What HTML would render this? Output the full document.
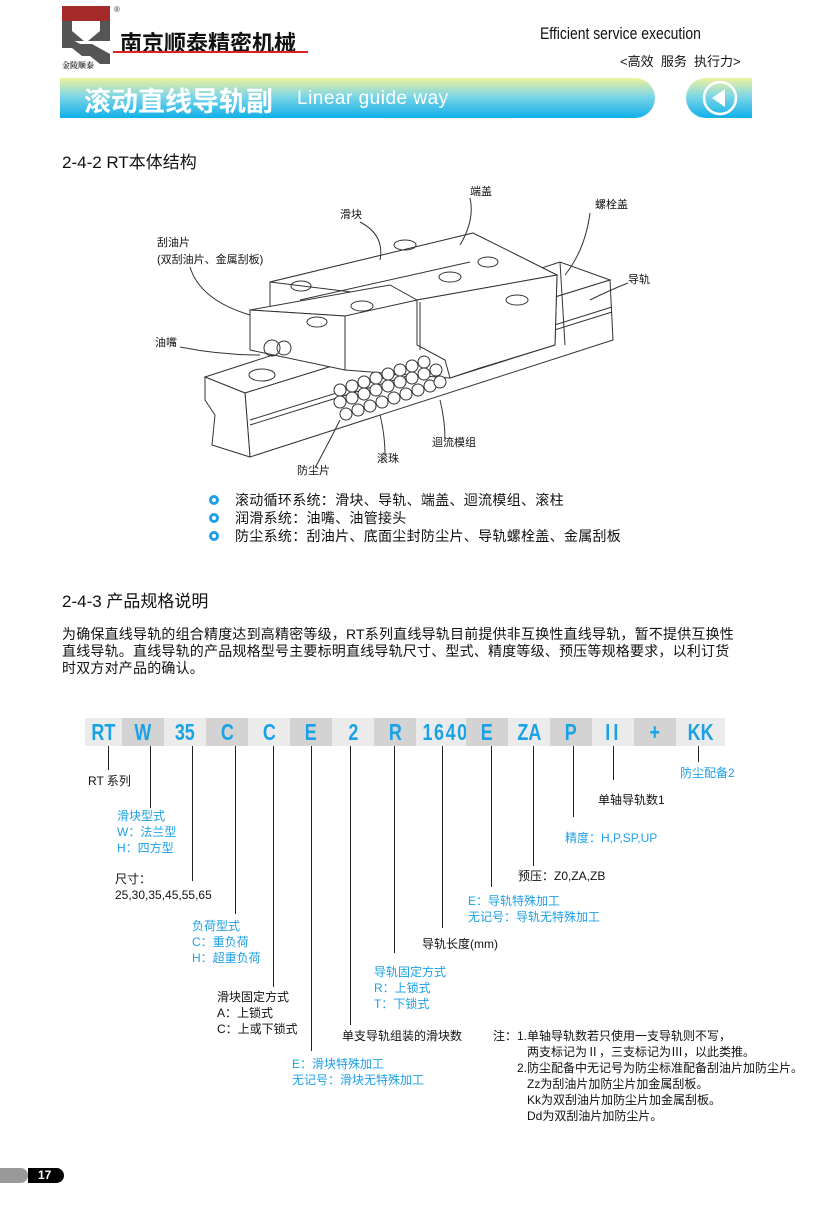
<!DOCTYPE html>
<html><head><meta charset="utf-8">
<style>
*{margin:0;padding:0;box-sizing:border-box}
body{width:830px;height:1217px;background:#fff;position:relative;overflow:hidden;font-family:"Liberation Sans","Noto Sans CJK SC",sans-serif;color:#111}
.a{position:absolute;white-space:nowrap}
.t{font-size:12px;line-height:16px}
.b{color:#1ea0e6}
.vl{position:absolute;width:1px;background:#222}
.box{position:absolute;top:718px;height:28px;font-weight:bold;font-size:23px;color:#19a3e6;text-align:center;line-height:28px}
.box span{display:inline-block;transform:scaleX(0.78)}
</style></head><body>

<!-- logo -->
<svg class="a" style="left:60px;top:4px" width="66" height="68">
<rect x="2" y="2" width="48" height="15" fill="#a52a2a"/>
<path d="M2 17 h10 v10 l12 10 h-22z M50 17 h-10 v10 l-12 10 h22z" fill="#555"/>
<path d="M2 30 l18 10 l12 0 l18 10 v10 h-10 l-10 -8 h-8 l-10 -8 h-10z" fill="#555"/>
<text x="54" y="8" font-size="8" fill="#333">®</text>
<text x="2" y="64" font-size="8" font-weight="bold" fill="#333" font-family="Noto Serif CJK SC,serif">金陵顺泰</text>
</svg>
<div class="a" style="left:120px;top:26px;font-size:22px;font-weight:bold;color:#111">南京顺泰精密机械</div>
<div class="a" style="left:113px;top:51px;width:195px;height:2px;background:#d22"></div>
<div class="a" style="left:540px;top:24px;font-size:17px;transform:scaleX(0.82);transform-origin:left">Efficient service execution</div>
<div class="a" style="left:620px;top:51px;font-size:13px">&lt;高效&nbsp;&nbsp;服务&nbsp;&nbsp;执行力&gt;</div>

<!-- banner -->
<div class="a" style="left:60px;top:78px;width:595px;height:40px;border-radius:0 20px 20px 0;background:linear-gradient(#eef29a,#7fd6e6 45%,#10b0ea)"></div>
<div class="a" style="left:84px;top:80px;font-size:27px;font-weight:bold;color:#fff">滚动直线导轨副</div>
<div class="a" style="left:297px;top:88px;font-size:19px;color:#fff;letter-spacing:0.5px">Linear guide way</div>
<div class="a" style="left:686px;top:78px;width:66px;height:40px;border-radius:20px 0 0 20px;background:linear-gradient(#eef29a,#7fd6e6 45%,#10b0ea)"></div>
<svg class="a" style="left:700px;top:79px" width="40" height="38"><circle cx="20" cy="19" r="16" fill="none" stroke="#fff" stroke-width="2.5"/><path d="M12 19 L25 10 V28Z" fill="#fff"/></svg>

<div class="a" style="left:62px;top:148px;font-size:17px">2-4-2 RT本体结构</div>

<!-- illustration -->
<svg class="a" style="left:0;top:0" width="830" height="490" fill="none" stroke="#333" stroke-width="1">
<path d="M205 377 L560 262 L610 280 L245 393 Z" fill="#fff"/>
<path d="M245 393 L610 280 L613 340 L250 457 Z" fill="#fff"/>
<path d="M205 377 L245 393 L250 457 L212 445 L215 415 L205 400 Z" fill="#fff"/>
<path d="M250 420 L612 307 M250 425 L612 312"/>
<ellipse cx="262" cy="375" rx="13" ry="6"/>
<path d="M270 282 L473 233 L557 275 L555 345 L450 378 L345 370 L270 335 Z" fill="#fff"/>
<path d="M270 282 L473 233 L557 275 L417 300 Z" fill="#fff"/>
<path d="M250 310 L390 285 L417 300 L345 316 Z" fill="#fff"/>
<path d="M250 310 L345 316 L345 370 L250 350 Z" fill="#fff"/>
<path d="M417 300 L557 275 L555 345 L480 368 L450 378 L445 360 L417 345 Z" fill="#fff"/>
<path d="M560 262 L565 345 M300 300 L470 262 M420 302 L420 350"/>
<ellipse cx="405" cy="245" rx="11" ry="5"/><ellipse cx="450" cy="277" rx="11" ry="5"/>
<ellipse cx="362" cy="306" rx="11" ry="5"/><ellipse cx="301" cy="286" rx="10" ry="5"/>
<ellipse cx="488" cy="262" rx="10" ry="5"/><ellipse cx="517" cy="300" rx="11" ry="5"/>
<ellipse cx="317" cy="322" rx="10" ry="5"/>
<circle cx="272" cy="348" r="8"/><circle cx="284" cy="348" r="7"/>
<g fill="#fff">
<circle cx="340" cy="390" r="6"/><circle cx="352" cy="386" r="6"/><circle cx="364" cy="382" r="6"/><circle cx="376" cy="378" r="6"/><circle cx="388" cy="374" r="6"/><circle cx="400" cy="370" r="6"/><circle cx="412" cy="366" r="6"/><circle cx="424" cy="362" r="6"/>
<circle cx="340" cy="402" r="6"/><circle cx="352" cy="398" r="6"/><circle cx="364" cy="394" r="6"/><circle cx="376" cy="390" r="6"/><circle cx="388" cy="386" r="6"/><circle cx="400" cy="382" r="6"/><circle cx="412" cy="378" r="6"/><circle cx="424" cy="374" r="6"/><circle cx="436" cy="370" r="6"/>
<circle cx="346" cy="414" r="6"/><circle cx="358" cy="410" r="6"/><circle cx="370" cy="406" r="6"/><circle cx="382" cy="402" r="6"/><circle cx="394" cy="398" r="6"/><circle cx="406" cy="394" r="6"/><circle cx="418" cy="390" r="6"/><circle cx="430" cy="386" r="6"/><circle cx="440" cy="382" r="6"/>
</g>
<path d="M360 222 Q385 235 380 260 M470 198 Q475 220 460 245 M590 213 Q585 250 565 275 M628 283 Q610 290 590 300 M180 347 Q220 355 260 355 M190 267 Q200 300 250 315 M445 440 Q445 420 440 400 M385 455 Q385 435 380 415 M315 468 Q330 440 340 420"/>
</svg>
<div class="a t" style="left:470px;top:184px;font-size:11px">端盖</div>
<div class="a t" style="left:340px;top:207px;font-size:11px">滑块</div>
<div class="a t" style="left:595px;top:197px;font-size:11px">螺栓盖</div>
<div class="a t" style="left:157px;top:235px;font-size:11px">刮油片</div>
<div class="a t" style="left:157px;top:252px;font-size:11px">(双刮油片、金属刮板)</div>
<div class="a t" style="left:628px;top:272px;font-size:11px">导轨</div>
<div class="a t" style="left:155px;top:335px;font-size:11px">油嘴</div>
<div class="a t" style="left:432px;top:435px;font-size:11px">迴流模组</div>
<div class="a t" style="left:377px;top:451px;font-size:11px">滚珠</div>
<div class="a t" style="left:297px;top:463px;font-size:11px">防尘片</div>

<!-- bullets -->
<div class="a" style="left:209px;top:495px;width:10px;height:10px;border:3px solid #1ea0e6;border-radius:50%"></div>
<div class="a" style="left:209px;top:513px;width:10px;height:10px;border:3px solid #1ea0e6;border-radius:50%"></div>
<div class="a" style="left:209px;top:531px;width:10px;height:10px;border:3px solid #1ea0e6;border-radius:50%"></div>
<div class="a" style="left:235px;top:491px;font-size:14px;line-height:18px;letter-spacing:0.3px">滚动循环系统：滑块、导轨、端盖、迴流模组、滚柱<br>润滑系统：油嘴、油管接头<br>防尘系统：刮油片、底面尘封防尘片、导轨螺栓盖、金属刮板</div>

<div class="a" style="left:62px;top:587px;font-size:17px">2-4-3 产品规格说明</div>
<div class="a" style="left:62px;top:626px;font-size:14px;line-height:17px;letter-spacing:0.2px">为确保直线导轨的组合精度达到高精密等级，RT系列直线导轨目前提供非互换性直线导轨，暂不提供互换性<br>直线导轨。直线导轨的产品规格型号主要标明直线导轨尺寸、型式、精度等级、预压等规格要求，以利订货<br>时双方对产品的确认。</div>

<!-- code boxes -->
<div class="box" style="left:85px;width:37px;background:#ebebeb"><span>RT</span></div>
<div class="box" style="left:122px;width:42px;background:#d3d3d3"><span>W</span></div>
<div class="box" style="left:164px;width:42px;background:#ebebeb"><span>35</span></div>
<div class="box" style="left:206px;width:42px;background:#d3d3d3"><span>C</span></div>
<div class="box" style="left:248px;width:42px;background:#ebebeb"><span>C</span></div>
<div class="box" style="left:290px;width:42px;background:#d3d3d3"><span>E</span></div>
<div class="box" style="left:332px;width:42px;background:#ebebeb"><span>2</span></div>
<div class="box" style="left:374px;width:42px;background:#d3d3d3"><span>R</span></div>
<div class="box" style="left:416px;width:50px;background:#ebebeb"><span style="letter-spacing:2px">1640</span></div>
<div class="box" style="left:466px;width:42px;background:#d3d3d3"><span>E</span></div>
<div class="box" style="left:508px;width:42px;background:#ebebeb"><span>ZA</span></div>
<div class="box" style="left:550px;width:42px;background:#d3d3d3"><span>P</span></div>
<div class="box" style="left:592px;width:42px;background:#ebebeb"><span style="letter-spacing:4px">II</span></div>
<div class="box" style="left:634px;width:42px;background:#d3d3d3"><span>+</span></div>
<div class="box" style="left:676px;width:49px;background:#ebebeb"><span>KK</span></div>

<!-- vertical lines -->
<div class="vl" style="left:108px;top:746px;height:24px"></div>
<div class="vl" style="left:150px;top:746px;height:62px"></div>
<div class="vl" style="left:192px;top:746px;height:135px"></div>
<div class="vl" style="left:235px;top:746px;height:168px"></div>
<div class="vl" style="left:273px;top:746px;height:241px"></div>
<div class="vl" style="left:311px;top:746px;height:305px"></div>
<div class="vl" style="left:350px;top:746px;height:279px"></div>
<div class="vl" style="left:394px;top:746px;height:207px"></div>
<div class="vl" style="left:442px;top:746px;height:182px"></div>
<div class="vl" style="left:491px;top:746px;height:141px"></div>
<div class="vl" style="left:533px;top:746px;height:120px"></div>
<div class="vl" style="left:573px;top:746px;height:71px"></div>
<div class="vl" style="left:613px;top:746px;height:34px"></div>
<div class="vl" style="left:698px;top:746px;height:16px"></div>

<!-- labels -->
<div class="a t" style="left:88px;top:773px">RT 系列</div>
<div class="a t b" style="left:117px;top:808px">滑块型式<br>W：法兰型<br>H：四方型</div>
<div class="a t" style="left:115px;top:871px">尺寸：<br>25,30,35,45,55,65</div>
<div class="a t b" style="left:192px;top:918px">负荷型式<br>C：重负荷<br>H：超重负荷</div>
<div class="a t" style="left:217px;top:989px">滑块固定方式<br>A：上锁式<br>C：上或下锁式</div>
<div class="a t b" style="left:292px;top:1056px">E：滑块特殊加工<br>无记号：滑块无特殊加工</div>
<div class="a t" style="left:342px;top:1028px">单支导轨组装的滑块数</div>
<div class="a t b" style="left:374px;top:964px">导轨固定方式<br>R：上锁式<br>T：下锁式</div>
<div class="a t" style="left:422px;top:936px">导轨长度(mm)</div>
<div class="a t b" style="left:468px;top:893px">E：导轨特殊加工<br>无记号：导轨无特殊加工</div>
<div class="a t" style="left:518px;top:868px">预压：Z0,ZA,ZB</div>
<div class="a t b" style="left:565px;top:830px">精度：H,P,SP,UP</div>
<div class="a t" style="left:598px;top:792px">单轴导轨数1</div>
<div class="a t b" style="left:680px;top:765px">防尘配备2</div>
<div class="a t" style="left:493px;top:1028px">注：1.单轴导轨数若只使用一支导轨则不写，</div>
<div class="a t" style="left:527px;top:1044px">两支标记为Ⅱ，三支标记为Ⅲ，以此类推。</div>
<div class="a t" style="left:517px;top:1060px">2.防尘配备中无记号为防尘标准配备刮油片加防尘片。</div>
<div class="a t" style="left:527px;top:1076px">Zz为刮油片加防尘片加金属刮板。</div>
<div class="a t" style="left:527px;top:1092px">Kk为双刮油片加防尘片加金属刮板。</div>
<div class="a t" style="left:527px;top:1108px">Dd为双刮油片加防尘片。</div>

<!-- page number -->
<div class="a" style="left:0;top:1168px;width:28px;height:15px;background:#999;border-radius:0 8px 8px 0"></div>
<div class="a" style="left:28px;top:1168px;width:36px;height:15px;background:#000;border-radius:0 8px 8px 0;color:#fff;font-size:12px;font-weight:bold;line-height:15px;padding-left:10px">17</div>
</body></html>
